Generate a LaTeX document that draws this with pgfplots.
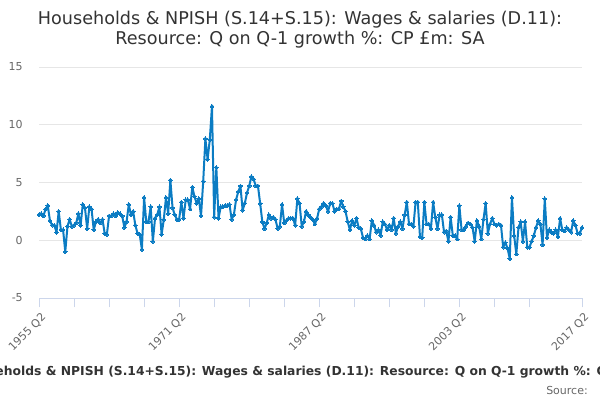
\documentclass[border=0pt]{standalone}
\usepackage{pgfplots}
\usepackage{pgfplotstable}
\pgfplotsset{compat=1.18}
\usepackage{fontspec}
\setmainfont{DejaVu Sans}
\definecolor{linecol}{HTML}{0B7CC3}
\definecolor{gridcol}{HTML}{E6E6E6}
\definecolor{axiscol}{HTML}{CCD6EB}
\definecolor{labcol}{HTML}{666666}
\definecolor{titcol}{HTML}{333333}
\pgfplotstableread{
v
2.2
2.3
2.1
2.7
3.0
1.7
1.3
1.3
0.7
2.5
0.9
0.9
-1.0
1.2
1.8
1.2
1.3
1.5
2.3
1.3
3.1
2.8
1.0
2.9
2.7
0.9
1.6
1.8
1.5
1.8
0.6
0.5
2.1
2.1
2.3
2.1
2.4
2.3
2.1
1.1
1.6
3.1
2.2
2.5
1.3
0.6
0.5
-0.8
3.7
1.6
1.6
2.9
-0.1
1.9
2.2
2.9
0.5
1.8
3.7
2.3
5.2
2.8
2.2
1.8
1.8
3.3
1.9
3.5
3.5
2.7
4.6
3.8
3.2
3.6
2.1
5.1
8.8
7.0
8.7
11.6
2.0
6.3
1.9
2.9
2.9
3.0
3.0
3.1
1.8
2.2
3.5
4.2
4.7
2.6
3.2
4.1
4.7
5.5
5.3
4.7
4.7
3.2
1.6
1.0
1.5
2.2
1.9
2.0
1.8
1.0
1.2
3.1
1.5
1.7
1.9
1.9
1.9
1.3
3.6
3.2
1.2
1.6
2.5
2.2
2.0
1.8
1.4
1.9
2.7
2.9
3.2
3.0
2.5
3.2
3.2
2.5
2.7
2.7
3.4
2.9
2.5
1.6
0.9
1.7
1.3
1.9
1.1
1.0
0.2
0.1
0.4
0.1
1.7
1.3
0.7
0.9
0.4
1.6
1.4
0.9
1.3
0.9
1.9
0.6
1.2
1.6
1.0
2.2
3.3
1.4
1.4
1.2
3.3
3.3
0.3
0.2
3.3
1.4
1.4
1.0
3.3
2.0
1.0
2.2
2.2
0.7
0.8
-0.1
2.0
0.4
0.4
0.1
3.0
0.9
0.9
1.2
1.5
1.4
1.1
-0.1
1.7
1.2
0.1
1.8
3.2
0.6
1.4
1.9
1.4
1.3
1.4
1.3
-0.6
-0.2
-0.7
-1.6
3.7
0.4
-1.2
1.1
1.6
-0.1
1.6
-0.6
-0.6
-0.1
0.4
1.1
1.7
1.4
-0.4
3.6
0.2
0.9
0.7
0.6
0.9
0.3
1.9
0.9
0.8
1.1
0.9
0.7
1.7
1.3
0.6
0.6
1.1
}\datatable
\begin{document}
\begin{tikzpicture}
\useasboundingbox (0pt,0pt) rectangle (450pt,300pt);
\clip (0pt,0pt) rectangle (450pt,300pt);
\begin{axis}[
  at={(29.25pt,76.5pt)}, anchor=south west,
  scale only axis, width=407.25pt, height=173.25pt,
  xmin=0, xmax=248, ymin=-5, ymax=15,
  axis x line*=bottom, axis y line*=left,
  x axis line style={draw=axiscol, line width=0.75pt},
  y axis line style={draw=none},
  xtick={0,16,32,48,64,80,96,112,128,144,160,176,192,208,224,248},
  xticklabels={1955 Q2,,,,1971 Q2,,,,1987 Q2,,,,2003 Q2,,,2017 Q2},
  xtick style={draw=axiscol, line width=0.75pt},
  tick align=outside, major tick length=7pt,
  xticklabel style={font=\fontsize{8.25pt}{10pt}\selectfont, color=labcol, rotate=45, anchor=east, inner sep=0pt, yshift=-7pt, xshift=-1.5pt},
  ytick={-5,0,5,10,15},
  ymajorgrids, grid style={draw=gridcol, line width=0.75pt},
  ytick style={draw=none},
  yticklabel style={font=\fontsize{8.25pt}{10pt}\selectfont, color=labcol, anchor=east, inner sep=0pt, xshift=-5pt},
  /pgf/number format/assume math mode=true,
  clip=false,
]
\addplot[color=linecol, line width=1.5pt, line join=round, mark=*, mark size=1.4pt, mark options={fill=linecol, draw=linecol, line width=0pt}] table[x expr=\coordindex, y=v] {\datatable};
\end{axis}
\node[anchor=base, color=titcol, font=\fontsize{13.2pt}{15pt}\selectfont, inner sep=0pt] at (225pt,281.25pt) {Households \& NPISH (S.14+S.15): Wages \& salaries (D.11):};
\node[anchor=base, color=titcol, font=\fontsize{13.2pt}{15pt}\selectfont, inner sep=0pt] at (225pt,266.25pt) {Resource: Q on Q-1 growth \%: CP £m: SA};
\node[anchor=base, color=titcol, font=\bfseries\fontsize{9.25pt}{11pt}\selectfont, inner sep=0pt] at (236.25pt,18pt) {Households \& NPISH (S.14+S.15): Wages \& salaries (D.11): Resource: Q on Q-1 growth \%: CP £m: SA};
\node[anchor=base east, color=labcol, font=\fontsize{8.25pt}{10pt}\selectfont, inner sep=0pt] at (441pt,4.5pt) {Source:};
\end{tikzpicture}
\end{document}
